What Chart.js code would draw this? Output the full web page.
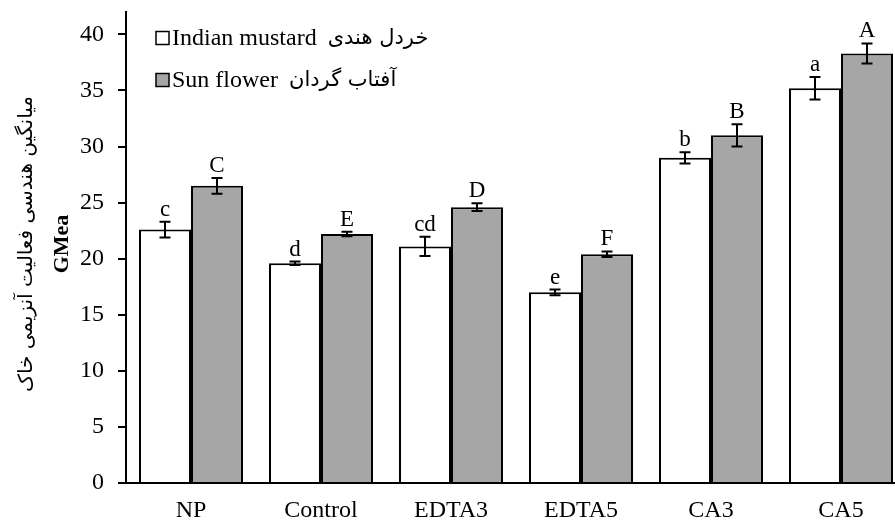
<!DOCTYPE html>
<html>
<head>
<meta charset="utf-8">
<script src="https://cdn.jsdelivr.net/npm/chart.js@4/dist/chart.umd.min.js"></script>
<style>
  html, body { margin: 0; padding: 0; background: #fff; overflow: hidden; }
  #wrap { width: 895px; height: 524px; overflow: hidden; }
</style>
</head>
<body>
<div id="wrap"><canvas id="chart" width="906" height="524"></canvas></div>
<script>
// Data
const categories = ['NP', 'Control', 'EDTA3', 'EDTA5', 'CA3', 'CA5'];
const mustardValues = [22.6, 19.6, 21.1, 17.0, 29.0, 35.2];
const sunflowerValues = [26.5, 22.2, 24.6, 20.4, 31.0, 38.3];
const mustardErrors = [0.7, 0.15, 0.85, 0.25, 0.5, 1.0];
const sunflowerErrors = [0.7, 0.2, 0.35, 0.25, 1.0, 0.9];
const mustardLetters = ['c', 'd', 'cd', 'e', 'b', 'a'];
const sunflowerLetters = ['C', 'E', 'D', 'F', 'B', 'A'];
const yTicks = [0, 5, 10, 15, 20, 25, 30, 35, 40];
const seriesNames = ['Indian mustard', 'Sun flower'];
const seriesNamesFa = ['خردل هندی', 'آفتاب گردان'];
const yTitleFa = 'میانگین هندسی فعالیت آنزیمی خاک';
const yTitleEn = 'GMea';

const serif = '"Liberation Serif", "Times New Roman", serif';
const faFont = '"DejaVu Sans", sans-serif';

// Error bars + significance letters
const errorBarPlugin = {
    id: 'errorBars',
    afterDatasetsDraw(chart) {
        const ctx = chart.ctx;
        const yScale = chart.scales.y;
        const errs = [mustardErrors, sunflowerErrors];
        const letters = [mustardLetters, sunflowerLetters];
        ctx.save();
        chart.data.datasets.forEach((ds, i) => {
            const meta = chart.getDatasetMeta(i);
            meta.data.forEach((bar, j) => {
                const v = ds.data[j];
                const e = errs[i][j];
                const yTop = yScale.getPixelForValue(v + e);
                const yBot = yScale.getPixelForValue(v - e);
                ctx.strokeStyle = '#000';
                ctx.lineWidth = 2;
                ctx.beginPath();
                ctx.moveTo(bar.x, yTop);
                ctx.lineTo(bar.x, yBot);
                ctx.moveTo(bar.x - 5.5, yTop);
                ctx.lineTo(bar.x + 5.5, yTop);
                ctx.moveTo(bar.x - 5.5, yBot);
                ctx.lineTo(bar.x + 5.5, yBot);
                ctx.stroke();

                ctx.fillStyle = '#000';
                ctx.font = '23px ' + serif;
                ctx.textAlign = 'center';
                ctx.textBaseline = 'alphabetic';
                ctx.fillText(letters[i][j], bar.x, yTop - 6);
            });
        });
        ctx.restore();
    }
};

// Legend and y-axis titles
const decorPlugin = {
    id: 'decor',
    afterDraw(chart) {
        const ctx = chart.ctx;
        ctx.save();
        // legend
        const rows = [38, 80];
        chart.data.datasets.forEach((ds, i) => {
            const y = rows[i];
            ctx.fillStyle = ds.backgroundColor;
            ctx.fillRect(156, y - 6.5, 13, 13);
            ctx.strokeStyle = '#000';
            ctx.lineWidth = 1.5;
            ctx.strokeRect(156, y - 6.5, 13, 13);
            ctx.fillStyle = '#000';
            ctx.textAlign = 'left';
            ctx.textBaseline = 'middle';
            ctx.font = '24px ' + serif;
            ctx.fillText(seriesNames[i], 172, y + 1);
            const w = ctx.measureText(seriesNames[i]).width;
            ctx.font = '21px ' + faFont;
            ctx.fillText(seriesNamesFa[i], 172 + w + 11, y + 1);
        });

        // y titles
        ctx.translate(27, 244);
        ctx.rotate(-Math.PI / 2);
        ctx.textAlign = 'center';
        ctx.textBaseline = 'middle';
        ctx.font = '20px ' + faFont;
        ctx.fillText(yTitleFa, 0, 0);
        ctx.font = 'bold 22px ' + serif;
        ctx.fillText(yTitleEn, 0, 35);
        ctx.restore();
    }
};

const chart = new Chart(document.getElementById('chart'), {
    type: 'bar',
    data: {
        labels: categories,
        datasets: [
            {
                label: seriesNames[0],
                data: mustardValues,
                backgroundColor: '#ffffff',
                borderColor: '#000000',
                borderWidth: 2,
                borderSkipped: 'bottom'
            },
            {
                label: seriesNames[1],
                data: sunflowerValues,
                backgroundColor: '#a6a6a6',
                borderColor: '#000000',
                borderWidth: 2,
                borderSkipped: 'bottom'
            }
        ]
    },
    options: {
        responsive: false,
        animation: false,
        layout: { padding: { top: 12, right: 0, left: 0, bottom: 0 } },
        datasets: {
            bar: { categoryPercentage: 0.8, barPercentage: 1.0 }
        },
        plugins: {
            legend: { display: false },
            tooltip: { enabled: false }
        },
        scales: {
            x: {
                grid: { drawOnChartArea: false, drawTicks: false },
                border: { color: '#000', width: 2 },
                ticks: {
                    color: '#000',
                    font: { family: serif, size: 24 },
                    padding: 13
                },
                afterFit(scale) {
                    scale.height = 41;
                    scale.paddingLeft = 0;
                    scale.paddingRight = 0;
                }
            },
            y: {
                min: 0,
                max: 42,
                grid: { drawOnChartArea: false, drawTicks: true, tickLength: 8, color: '#000', lineWidth: 2 },
                border: { color: '#000', width: 2 },
                ticks: {
                    color: '#000',
                    font: { family: serif, size: 24 },
                    padding: 14
                },
                afterBuildTicks(scale) {
                    scale.ticks = yTicks.map(v => ({ value: v }));
                },
                afterFit(scale) {
                    scale.width = 126;
                    scale.paddingTop = 0;
                    scale.paddingBottom = 0;
                }
            }
        }
    },
    plugins: [errorBarPlugin, decorPlugin]
});
</script>
</body>
</html>
